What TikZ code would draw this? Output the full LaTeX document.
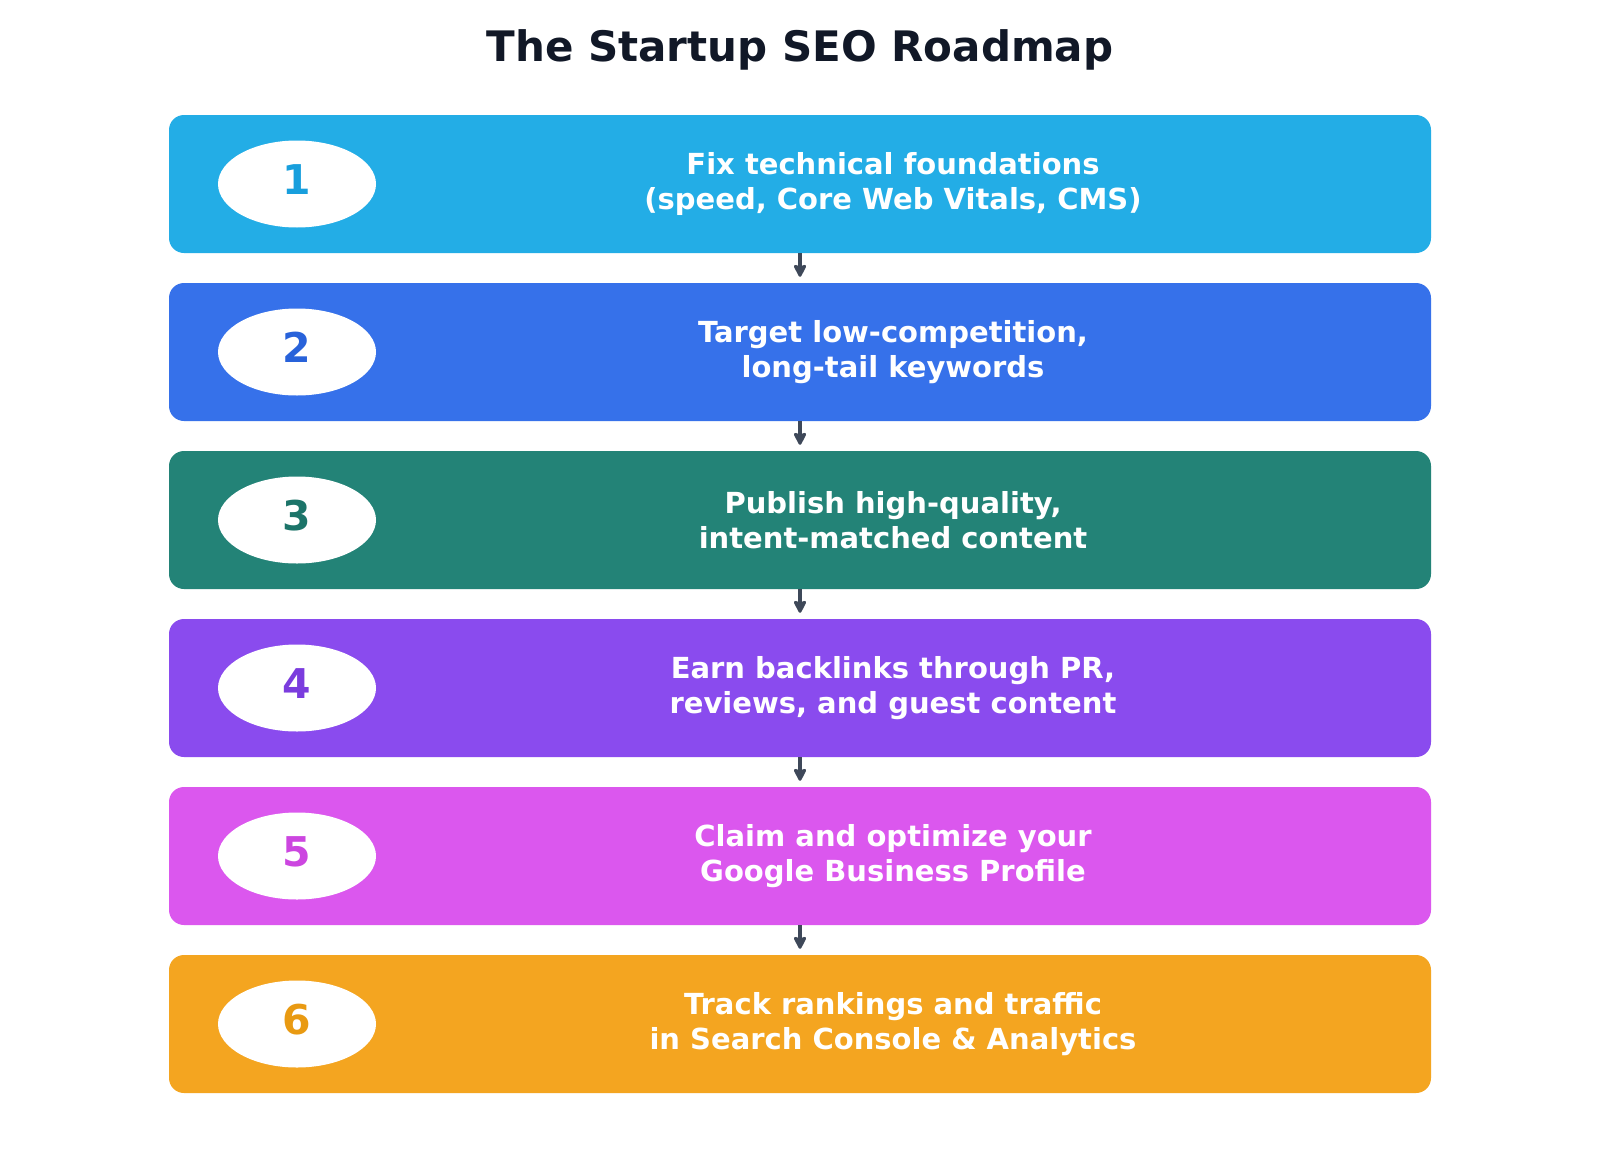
\documentclass[tikz,border=0pt]{standalone}
\usepackage{fontspec}
\setmainfont{DejaVu Sans}
\usetikzlibrary{shapes.geometric,arrows.meta}
\definecolor{cA}{HTML}{23ADE6}\definecolor{nA}{HTML}{189FDD}
\definecolor{cB}{HTML}{3671EA}\definecolor{nB}{HTML}{2862DA}
\definecolor{cC}{HTML}{238377}\definecolor{nC}{HTML}{1C7469}
\definecolor{cD}{HTML}{8A4BEE}\definecolor{nD}{HTML}{7B3CDE}
\definecolor{cE}{HTML}{DB57EE}\definecolor{nE}{HTML}{CC46E0}
\definecolor{cF}{HTML}{F4A520}\definecolor{nF}{HTML}{E99A12}
\definecolor{titlec}{HTML}{111827}
\definecolor{arrc}{HTML}{3E4859}
\tikzset{
  stepbox/.style={rectangle, rounded corners=15pt, minimum width=1262pt, minimum height=138pt, inner sep=0pt},
  numoval/.style={ellipse, fill=white, minimum width=158pt, minimum height=87pt, inner sep=0pt},
  numlabel/.style={inner sep=0pt, font=\fontsize{41}{41}\selectfont\bfseries},
  steptext/.style={text=white, align=center, font=\fontsize{29}{35}\selectfont\bfseries},
  flowarrow/.style={draw=arrc, line width=4pt, -{Stealth[length=15pt,width=15pt,inset=3pt,round]}, shorten >=6pt},
}
\begin{document}
\begin{tikzpicture}[x=1pt,y=-1pt]
\useasboundingbox[fill=white] (0,0) rectangle (1600,1156);
\node[font=\fontsize{42}{42}\selectfont\bfseries, text=titlec] (title) at (800,50) {The Startup SEO Roadmap};
\foreach \i/\c/\n/\t in {
  1/cA/nA/{Fix technical foundations\\(speed, Core Web Vitals, CMS)},
  2/cB/nB/{Target low-competition,\\long-tail keywords},
  3/cC/nC/{Publish high-quality,\\intent-matched content},
  4/cD/nD/{Earn backlinks through PR,\\reviews, and guest content},
  5/cE/nE/{Claim and optimize your\\Google Business Profile},
  6/cF/nF/{Track rankings and traffic\\in Search Console \& Analytics}}{
  \pgfmathsetmacro{\yy}{184+168*(\i-1)}
  \node[stepbox, fill=\c] (box\i) at (800,\yy) {};
  \node[numoval] (num\i) at (297,\yy) {};
  \node[numlabel, text=\n] (numlbl\i) at ([yshift=4.5pt]num\i.center) {\i};
  \node[steptext] (txt\i) at (893,\yy) {\t};
}
\foreach \a/\b in {1/2,2/3,3/4,4/5,5/6}{
  \draw[flowarrow] (box\a.south) -- (box\b.north);
}
\end{tikzpicture}
\end{document}
